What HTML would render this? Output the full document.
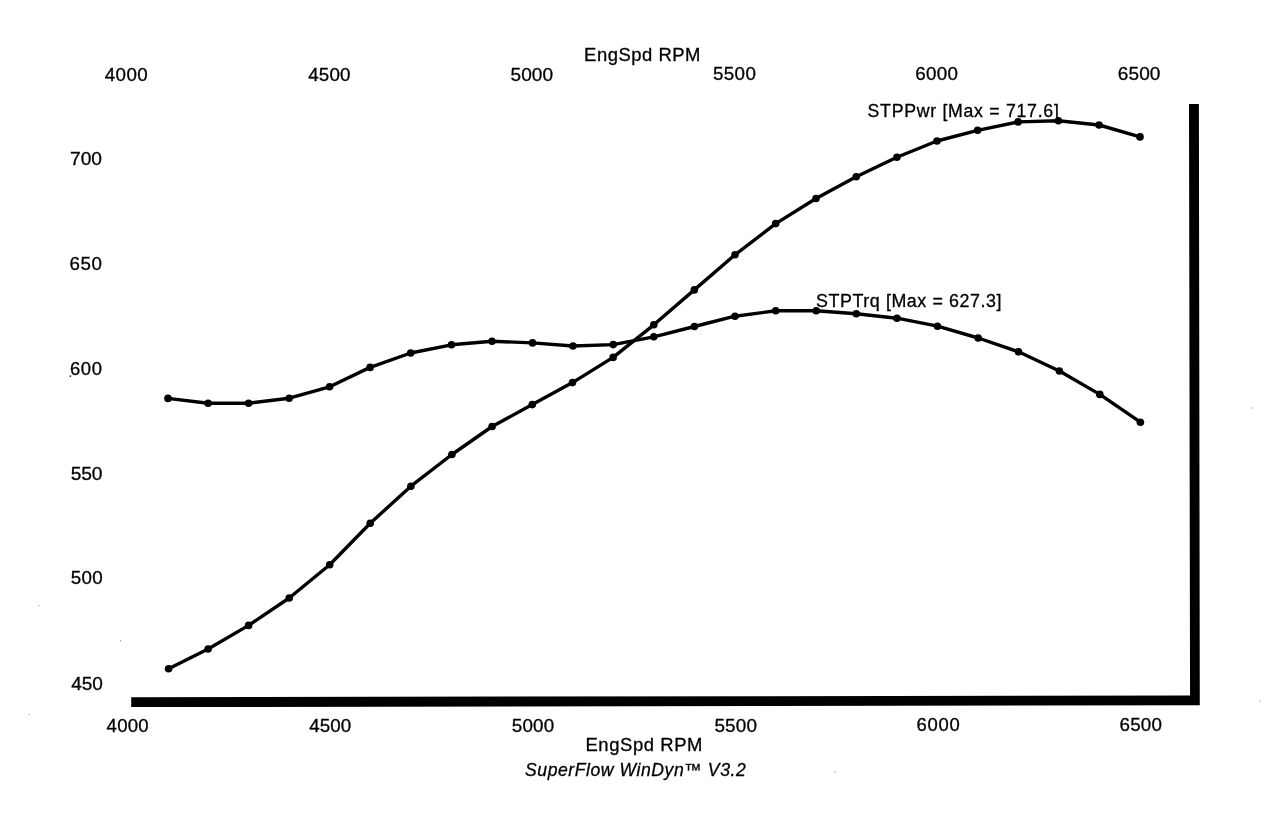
<!DOCTYPE html>
<html><head><meta charset="utf-8"><style>
html,body{margin:0;padding:0;background:#fff;width:1280px;height:821px;overflow:hidden}
svg{display:block;position:absolute;left:0;top:0;will-change:transform}
</style></head><body>
<svg width="1280" height="821" viewBox="0 0 1280 821">
<g font-family="Liberation Sans, sans-serif" fill="#000" stroke="#000" stroke-width="0.3">
<text x="104.77" y="80.90" font-size="18.75" letter-spacing="0.384">4000</text>
<text x="308.27" y="80.60" font-size="18.75" letter-spacing="0.150">4500</text>
<text x="510.49" y="80.60" font-size="19.04" letter-spacing="0.066">5000</text>
<text x="713.00" y="80.10" font-size="18.75" letter-spacing="0.374">5500</text>
<text x="915.15" y="80.10" font-size="18.75" letter-spacing="0.357">6000</text>
<text x="1117.78" y="80.00" font-size="19.04" letter-spacing="0.101">6500</text>
<text x="70.02" y="165.20" font-size="19.19" letter-spacing="-0.014">700</text>
<text x="69.55" y="270.20" font-size="18.75" letter-spacing="0.575">650</text>
<text x="70.06" y="374.70" font-size="18.46" letter-spacing="0.555">600</text>
<text x="70.73" y="479.50" font-size="19.19" letter-spacing="-0.147">550</text>
<text x="70.75" y="584.20" font-size="18.75" letter-spacing="0.350">500</text>
<text x="71.26" y="690.40" font-size="19.04" letter-spacing="-0.044">450</text>
<text x="106.57" y="732.10" font-size="18.60" letter-spacing="0.255">4000</text>
<text x="309.17" y="731.80" font-size="18.75" letter-spacing="0.084">4500</text>
<text x="511.75" y="731.80" font-size="18.75" letter-spacing="0.257">5000</text>
<text x="714.44" y="731.70" font-size="18.90" letter-spacing="0.153">5500</text>
<text x="916.56" y="730.90" font-size="18.46" letter-spacing="0.698">6000</text>
<text x="1119.55" y="730.80" font-size="18.75" letter-spacing="0.191">6500</text>
<text x="584.09" y="60.60" font-size="18.46" letter-spacing="0.510">EngSpd RPM</text>
<text x="585.49" y="751.20" font-size="18.46" letter-spacing="0.577">EngSpd RPM</text>
<text x="525.10" y="776.00" font-size="17.59" letter-spacing="0.556" font-style="italic">SuperFlow WinDyn™ V3.2</text>
<text x="867.59" y="117.20" font-size="17.73" letter-spacing="0.709">STPPwr [Max = 717.6]</text>
<text x="816.09" y="306.50" font-size="17.88" letter-spacing="0.569">STPTrq [Max = 627.3]</text>
</g>
<path d="M131.2,697.2 L1190.05,695.45 L1189,104.1 L1198.9,104.1 L1199.8,705.2 L131.2,707.1 Z" fill="#000"/>
<polyline points="168.00,398.40 208.10,403.20 248.60,403.20 289.20,398.20 329.60,386.80 370.10,367.40 410.70,353.00 451.50,344.80 492.00,341.20 532.50,342.90 573.00,346.00 613.20,344.60 653.80,336.80 694.40,326.50 735.00,316.20 775.70,310.80 816.20,310.80 856.30,313.70 897.00,318.20 937.50,326.20 978.20,338.00 1018.50,351.80 1059.40,371.00 1099.80,394.40 1140.40,422.20" fill="none" stroke="#000" stroke-width="3.4" stroke-linejoin="round" stroke-linecap="round"/>
<circle cx="168.00" cy="398.40" r="3.8"/>
<circle cx="208.10" cy="403.20" r="3.8"/>
<circle cx="248.60" cy="403.20" r="3.8"/>
<circle cx="289.20" cy="398.20" r="3.8"/>
<circle cx="329.60" cy="386.80" r="3.8"/>
<circle cx="370.10" cy="367.40" r="3.8"/>
<circle cx="410.70" cy="353.00" r="3.8"/>
<circle cx="451.50" cy="344.80" r="3.8"/>
<circle cx="492.00" cy="341.20" r="3.8"/>
<circle cx="532.50" cy="342.90" r="3.8"/>
<circle cx="573.00" cy="346.00" r="3.8"/>
<circle cx="613.20" cy="344.60" r="3.8"/>
<circle cx="653.80" cy="336.80" r="3.8"/>
<circle cx="694.40" cy="326.50" r="3.8"/>
<circle cx="735.00" cy="316.20" r="3.8"/>
<circle cx="775.70" cy="310.80" r="3.8"/>
<circle cx="816.20" cy="310.80" r="3.8"/>
<circle cx="856.30" cy="313.70" r="3.8"/>
<circle cx="897.00" cy="318.20" r="3.8"/>
<circle cx="937.50" cy="326.20" r="3.8"/>
<circle cx="978.20" cy="338.00" r="3.8"/>
<circle cx="1018.50" cy="351.80" r="3.8"/>
<circle cx="1059.40" cy="371.00" r="3.8"/>
<circle cx="1099.80" cy="394.40" r="3.8"/>
<circle cx="1140.40" cy="422.20" r="3.8"/>
<polyline points="168.60,668.80 208.10,649.00 248.60,625.40 289.20,598.00 329.70,564.70 370.20,523.30 410.90,486.20 451.90,454.50 492.10,426.50 532.30,404.60 572.50,382.60 613.10,357.40 653.80,324.80 694.30,289.90 735.00,254.80 775.70,223.60 816.00,198.50 856.20,176.80 896.90,157.30 937.00,141.00 977.60,130.30 1018.10,121.90 1058.40,120.80 1099.10,125.00 1140.00,136.90" fill="none" stroke="#000" stroke-width="3.4" stroke-linejoin="round" stroke-linecap="round"/>
<circle cx="168.60" cy="668.80" r="3.8"/>
<circle cx="208.10" cy="649.00" r="3.8"/>
<circle cx="248.60" cy="625.40" r="3.8"/>
<circle cx="289.20" cy="598.00" r="3.8"/>
<circle cx="329.70" cy="564.70" r="3.8"/>
<circle cx="370.20" cy="523.30" r="3.8"/>
<circle cx="410.90" cy="486.20" r="3.8"/>
<circle cx="451.90" cy="454.50" r="3.8"/>
<circle cx="492.10" cy="426.50" r="3.8"/>
<circle cx="532.30" cy="404.60" r="3.8"/>
<circle cx="572.50" cy="382.60" r="3.8"/>
<circle cx="613.10" cy="357.40" r="3.8"/>
<circle cx="653.80" cy="324.80" r="3.8"/>
<circle cx="694.30" cy="289.90" r="3.8"/>
<circle cx="735.00" cy="254.80" r="3.8"/>
<circle cx="775.70" cy="223.60" r="3.8"/>
<circle cx="816.00" cy="198.50" r="3.8"/>
<circle cx="856.20" cy="176.80" r="3.8"/>
<circle cx="896.90" cy="157.30" r="3.8"/>
<circle cx="937.00" cy="141.00" r="3.8"/>
<circle cx="977.60" cy="130.30" r="3.8"/>
<circle cx="1018.10" cy="121.90" r="3.8"/>
<circle cx="1058.40" cy="120.80" r="3.8"/>
<circle cx="1099.10" cy="125.00" r="3.8"/>
<circle cx="1140.00" cy="136.90" r="3.8"/>
<circle cx="70.4" cy="376.1" r="0.9" fill="#333"/>
<circle cx="39" cy="605.6" r="0.7" fill="#999"/>
<circle cx="120.6" cy="640.7" r="0.7" fill="#999"/>
<circle cx="29.2" cy="714.6" r="0.7" fill="#999"/>
<circle cx="1252" cy="408" r="0.7" fill="#999"/>
<circle cx="1260" cy="701" r="0.7" fill="#999"/>
<circle cx="835" cy="772" r="0.7" fill="#999"/>
</svg>
</body></html>
